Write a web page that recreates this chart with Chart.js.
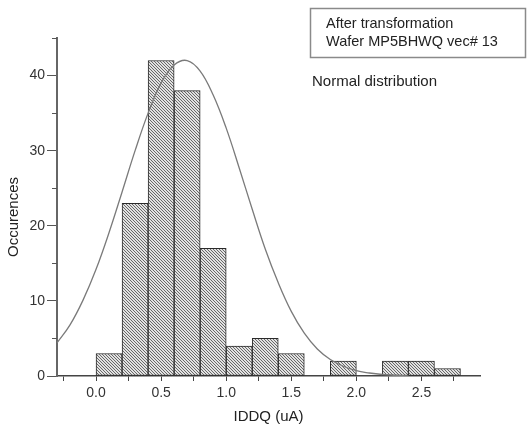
<!DOCTYPE html>
<html>
<head>
<meta charset="utf-8">
<script src="https://cdn.jsdelivr.net/npm/chart.js@4.4.1/dist/chart.umd.min.js"></script>
<style>
  html, body { margin: 0; padding: 0; background: #fff; }
  #wrap { width: 527px; height: 427px; }
</style>
</head>
<body>
<div id="wrap"><canvas id="histChart" width="527" height="427"></canvas></div>
<script>
// histogram bins (centre of each 0.2 uA bin) and counts
const binCenters = [0.1, 0.3, 0.5, 0.7, 0.9, 1.1, 1.3, 1.5, 1.7, 1.9, 2.1, 2.3, 2.5, 2.7];
const binCounts  = [3, 23, 42, 38, 17, 4, 5, 3, 0, 2, 0, 2, 2, 1];

// normal distribution curve
const curveX = [-0.3, -0.2, -0.1, 0.0, 0.1, 0.2, 0.3, 0.4, 0.5, 0.6, 0.7, 0.8, 0.9, 1.0,
                1.1, 1.2, 1.3, 1.4, 1.5, 1.6, 1.7, 1.8, 1.9, 2.0, 2.1, 2.2, 2.3, 2.4];
const curveY = [4.4, 6.8, 10.1, 14.2, 19.1, 24.5, 30.0, 35.0, 39.0, 41.4, 42.0, 40.6, 37.4, 33.0,
                27.7, 22.2, 16.9, 12.4, 8.6, 5.7, 3.6, 2.2, 1.3, 0.7, 0.4, 0.2, 0.1, 0.0];

// x ticks every 0.25, labels only on the 0.5 steps
const xTickValues = [-0.25, 0, 0.25, 0.5, 0.75, 1.0, 1.25, 1.5, 1.75, 2.0, 2.25, 2.5, 2.75];
const xTickLabels = ['', '0.0', '', '0.5', '', '1.0', '', '1.5', '', '2.0', '', '2.5', ''];
const yTickValues = [0, 5, 10, 15, 20, 25, 30, 35, 40, 45];
const yTickLabels = ['0', '', '10', '', '20', '', '30', '', '40', ''];

const boxLines = ['After transformation', 'Wafer MP5BHWQ vec# 13'];
const curveLabel = 'Normal distribution';

function makeHatch() {
    const c = document.createElement('canvas');
    c.width = 3; c.height = 3;
    const g = c.getContext('2d');
    g.fillStyle = '#e2e2e2';
    g.fillRect(0, 0, 3, 3);
    g.strokeStyle = '#5a5a5a';
    g.lineWidth = 0.9;
    g.beginPath();
    g.moveTo(-1, -1); g.lineTo(4, 4);
    g.moveTo(-1, 2); g.lineTo(1, 4);
    g.moveTo(2, -1); g.lineTo(4, 1);
    g.stroke();
    return g.createPattern(c, 'repeat');
}

const textFont = '"Liberation Sans", Arial, sans-serif';

// annotation box, curve label, rotated y title and short minor ticks on y
const extras = {
    id: 'extras',
    afterDraw(chart) {
        const ctx = chart.ctx;
        const y = chart.scales.y;
        ctx.save();

        ctx.strokeStyle = '#555';
        ctx.lineWidth = 1;
        y.ticks.forEach(t => {
            if (t.value % 10 !== 0) {
                const py = Math.round(y.getPixelForValue(t.value)) + 0.5;
                ctx.beginPath();
                ctx.moveTo(y.right - 5, py);
                ctx.lineTo(y.right, py);
                ctx.stroke();
            }
        });

        ctx.fillStyle = '#222';
        ctx.font = '15px ' + textFont;
        ctx.textAlign = 'center';
        ctx.textBaseline = 'middle';
        ctx.translate(14, 217);
        ctx.rotate(-Math.PI / 2);
        ctx.fillText('Occurences', 0, 0);
        ctx.restore();

        ctx.save();
        ctx.strokeStyle = '#8a8a8a';
        ctx.lineWidth = 1.5;
        ctx.strokeRect(310.5, 8.5, 215, 49);
        ctx.fillStyle = '#222';
        ctx.textAlign = 'left';
        ctx.textBaseline = 'middle';
        ctx.font = '14.5px ' + textFont;
        ctx.fillText(boxLines[0], 326, 24);
        ctx.fillText(boxLines[1], 326, 42);
        ctx.font = '15px ' + textFont;
        ctx.fillText(curveLabel, 312, 82);
        ctx.restore();
    }
};

const canvas = document.getElementById('histChart');
const ctx = canvas.getContext('2d');

new Chart(ctx, {
    type: 'bar',
    data: {
        datasets: [{
            type: 'line',
            label: curveLabel,
            data: curveX.map((x, i) => ({ x: x, y: curveY[i] })),
            borderColor: '#7a7a7a',
            borderWidth: 1.3,
            pointRadius: 0,
            tension: 0.4,
            fill: false,
            order: 0
        }, {
            type: 'bar',
            label: 'IDDQ',
            data: binCenters.map((x, i) => ({ x: x, y: binCounts[i] })),
            backgroundColor: makeHatch(),
            borderColor: '#2a2a2a',
            borderWidth: 1,
            borderSkipped: false,
            barPercentage: 1,
            categoryPercentage: 1,
            order: 1
        }]
    },
    plugins: [extras],
    options: {
        responsive: false,
        animation: false,
        layout: { padding: { top: 38, right: 47, left: 0, bottom: 0 } },
        plugins: {
            legend: { display: false },
            tooltip: { enabled: false }
        },
        scales: {
            x: {
                type: 'linear',
                min: -0.3,
                max: 2.95,
                offset: false,
                afterBuildTicks: function (s) {
                    s.ticks = xTickValues.map(v => ({ value: v }));
                },
                grid: {
                    offset: false,
                    drawOnChartArea: false,
                    tickLength: 5,
                    color: '#444'
                },
                border: { display: true, color: '#444', width: 1.5 },
                ticks: {
                    autoSkip: false,
                    maxRotation: 0,
                    padding: 4,
                    color: '#333',
                    font: { size: 14, family: textFont },
                    callback: function (v, i) { return xTickLabels[i]; }
                },
                title: {
                    display: true,
                    text: 'IDDQ (uA)',
                    color: '#222',
                    font: { size: 15, family: textFont },
                    padding: { top: 0, bottom: 1 }
                },
                afterFit: function (s) { s.height = 51; }
            },
            y: {
                min: 0,
                max: 45,
                afterBuildTicks: function (s) {
                    s.ticks = yTickValues.map(v => ({ value: v }));
                },
                grid: {
                    drawOnChartArea: false,
                    tickLength: 10,
                    color: function (c) {
                        return c.tick && c.tick.value % 10 === 0 ? '#555' : 'rgba(0,0,0,0)';
                    }
                },
                border: { display: true, color: '#666', width: 2 },
                ticks: {
                    autoSkip: false,
                    padding: 2,
                    color: '#333',
                    font: { size: 14, family: textFont },
                    callback: function (v, i) { return yTickLabels[i]; }
                },
                afterFit: function (s) { s.width = 57; }
            }
        }
    }
});
</script>
</body>
</html>
